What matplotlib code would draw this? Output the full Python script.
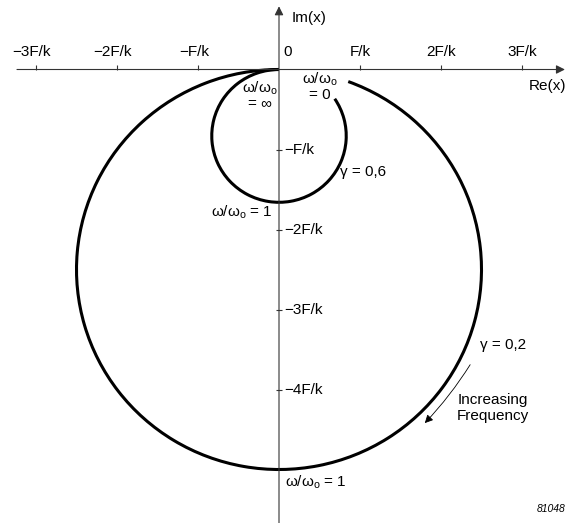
import matplotlib
matplotlib.use("Agg")
import matplotlib.pyplot as plt
from matplotlib.patches import Arc

plt.rcParams['font.family'] = ['Liberation Sans', 'DejaVu Sans']
plt.rcParams['mathtext.default'] = 'regular'

# tick positions (units of F/k) and their labels
x_ticks = [-3, -2, -1, 1, 2, 3]
x_labels = ["\u22123F/k", "\u22122F/k", "\u2212F/k", "F/k", "2F/k", "3F/k"]
y_ticks = [-1, -2, -3, -4]
y_labels = ["\u2212F/k", "\u22122F/k", "\u22123F/k", "\u22124F/k"]

# response loops for the two damping values
gammas = ["\u03b3 = 0,2", "\u03b3 = 0,6"]
loop_center_y = [-2.5, -0.83]     # centre on imaginary axis
loop_diameter = [5.0, 1.66]       # = 1/gamma
loop_start_deg = [90, 90]         # omega -> infinity end (origin)
loop_end_deg = [70, 34]           # omega -> 0 end (curve stops short of the label)

wo = "\u03c9/\u03c9$_o$"

fig = plt.figure(figsize=(5.68, 5.23), dpi=100)
ax = fig.add_axes([0, 0, 1, 1])
ax.set_xlim(-279 / 81, (568 - 279) / 81)
ax.set_ylim(-(523 - 69.5) / 80, 69.5 / 80)
ax.axis("off")

axis_col = "#333333"
# real axis and imaginary axis with arrowheads
ax.annotate("", xy=(3.53, 0), xytext=(-3.235, 0),
            arrowprops=dict(arrowstyle="-|>", lw=0.8, color=axis_col,
                            mutation_scale=13, shrinkA=0, shrinkB=0))
ax.annotate("", xy=(0, 0.79), xytext=(0, -5.8),
            arrowprops=dict(arrowstyle="-|>", lw=0.8, color=axis_col,
                            mutation_scale=13, shrinkA=0, shrinkB=0))

ax.vlines(x_ticks, 0, 0.055, color=axis_col, lw=0.8)
ax.hlines(y_ticks, -0.04, 0.04, color=axis_col, lw=0.8)

fs = 11
for xv, lab in zip(x_ticks, x_labels):
    ax.text(xv - (0.05 if xv < 0 else 0), 0.22, lab, ha="center", va="center", fontsize=fs)
for yv, lab in zip(y_ticks, y_labels):
    ax.text(0.07, yv, lab, ha="left", va="center", fontsize=fs)
ax.text(0.06, 0.22, "0", ha="left", va="center", fontsize=fs)
ax.text(0.16, 0.64, "Im(x)", ha="left", va="center", fontsize=fs)
ax.text(3.08, -0.21, "Re(x)", ha="left", va="center", fontsize=fs)

for cy, d, t1, t2 in zip(loop_center_y, loop_diameter, loop_start_deg, loop_end_deg):
    ax.add_patch(Arc((0, cy), d, d, theta1=t1, theta2=t2, color="black", lw=2.2))

ax.text(-0.235, -0.32, wo + "\n= \u221e", ha="center", va="center", fontsize=fs, linespacing=1.0)
ax.text(0.51, -0.21, wo + "\n= 0", ha="center", va="center", fontsize=fs, linespacing=1.0)
ax.text(0.753, -1.28, gammas[1], ha="left", va="center", fontsize=fs)
ax.text(-0.074, -1.78, wo + " = 1", ha="right", va="center", fontsize=fs)
ax.text(2.48, -3.44, gammas[0], ha="left", va="center", fontsize=fs)
ax.text(0.074, -5.16, wo + " = 1", ha="left", va="center", fontsize=fs)
ax.text(2.20, -4.23, "Increasing\nFrequency", ha="left", va="center", fontsize=fs,
        linespacing=1.15)

ax.annotate("", xy=(1.80, -4.42), xytext=(2.36, -3.69),
            arrowprops=dict(arrowstyle="-|>", lw=0.6, color="black",
                            mutation_scale=12, shrinkA=0, shrinkB=0,
                            connectionstyle="arc3,rad=-0.05"))

ax.text(3.535, -5.49, "81048", ha="right", va="center", fontsize=7.5, style="italic")

fig.savefig("out.png", dpi=100)
